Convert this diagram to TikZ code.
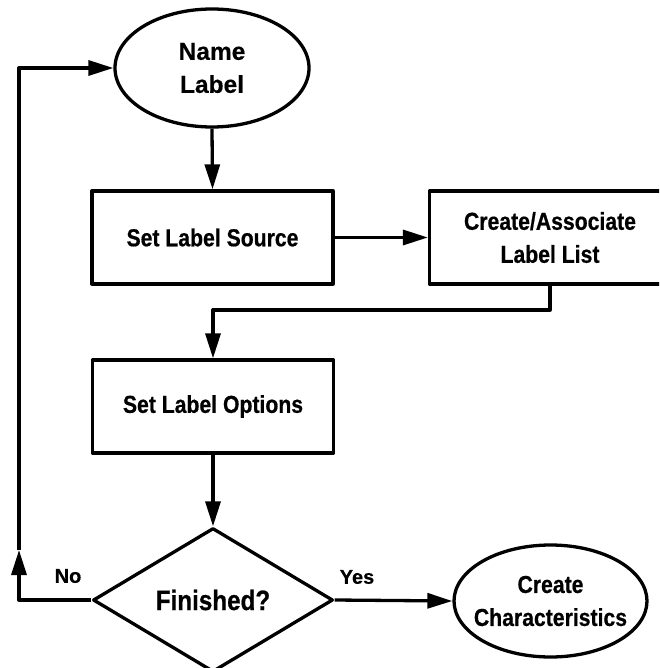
\documentclass[tikz,border=0pt]{standalone}
\usepackage{fontspec}
\newfontfamily\flowfont{Liberation Sans Bold}[FakeStretch=0.865, FakeBold=0.6]
\newfontfamily\widefont{Liberation Sans Bold}[FakeBold=0.4]
\usetikzlibrary{shapes.geometric,arrows.meta}

\begin{document}
\begin{tikzpicture}[x=1pt, y=-1pt, line width=3.3pt, line join=round,
  every node/.style={font=\flowfont\fontsize{24.5}{33}\selectfont, align=center, inner sep=0pt},
  process/.style={draw, rectangle, minimum width=241pt, minimum height=93pt},
  terminal/.style={draw, ellipse, inner xsep=-10pt, minimum width=194pt, minimum height=118pt},
  decision/.style={draw, diamond, minimum width=240pt, minimum height=144pt},
  flow/.style={-{Triangle[length=25pt, width=15pt]}},
  tag/.style={font=\widefont\fontsize{20}{23}\selectfont}]

  \clip (0,0) rectangle (659,668);

  % steps of the flow
  \node[terminal, font=\widefont\fontsize{24.5}{33}\selectfont] (name) at (212,68) {Name\\Label};
  \node[process] (src) at (212.5,237.5) {Set Label Source};
  \node[process] (list) at (550,237.5) {Create/Associate\\Label List};
  \node[process] (opt) at (213,406.5) {Set Label Options};
  \node[decision, font=\flowfont\fontsize{28}{33}\selectfont] (done) at (213,600) {Finished?};
  \node[terminal, minimum width=193pt, minimum height=112pt] (chars) at (550.5,601) {Create\\Characteristics};

  % branch labels
  \node[tag] (no) at (68,576) {No};
  \node[tag] (yes) at (357,577) {Yes};

  % connectors
  \coordinate (jog) at (0,310);
  \coordinate (up) at (19,550);
  \draw[flow] (name.south) -- (src.north);
  \draw[flow] (src.east) -- (list.west);
  \draw[flow] (list.south) |- (opt.north |- jog) -- (opt.north);
  \draw[flow] (opt.south) -- (done.north);
  \draw[flow] (done.east) -- (chars.west);
  \draw[flow] (done.west) -| (up);
  \draw[flow] (up) |- (name.west);
\end{tikzpicture}
\end{document}
